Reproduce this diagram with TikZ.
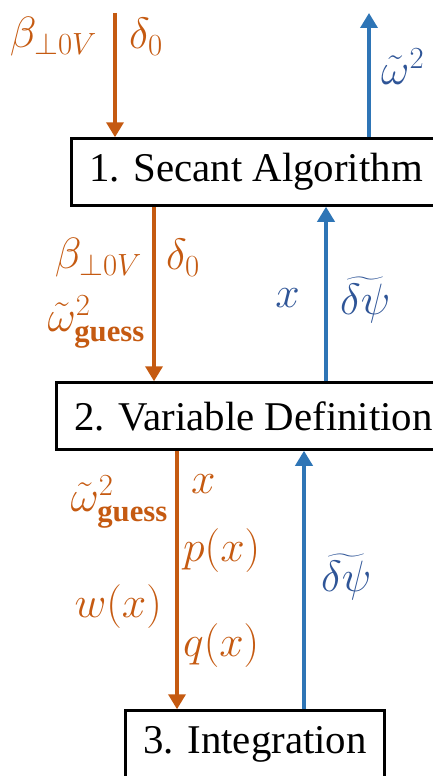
\RequirePackage{fix-cm}
\documentclass[tikz,border=0pt]{standalone}
\usepackage{amsmath}
\usepackage[no-math]{fontspec}
\setmainfont{Liberation Serif}
\usetikzlibrary{arrows.meta}
\definecolor{flowOrange}{HTML}{C55A11}
\definecolor{flowBlue}{HTML}{2E75B6}
\definecolor{labelBlue}{HTML}{2F5597}

\begin{document}
\begin{tikzpicture}[x=1bp,y=-1bp,
  stepbox/.style={draw,line width=2.5bp,minimum height=67bp,inner xsep=18bp,inner ysep=0pt,anchor=west,font=\fontsize{41}{46}\selectfont},
  fwdarrow/.style={flowOrange,line width=3.5bp,-{Triangle[length=15bp,width=17bp]}},
  backarrow/.style={flowBlue,line width=3.5bp,-{Triangle[length=15bp,width=17bp]}},
  olabel/.style={text=flowOrange,inner sep=0pt,font=\fontsize{44}{50}\selectfont},
  blabel/.style={text=labelBlue,inner sep=0pt,font=\fontsize{44}{50}\selectfont}]

\clip (0,0) rectangle (433,776);

% the three steps
\node[stepbox] (secant) at (70,172) {1. Secant Algorithm};
\node[stepbox] (vardef) at (55,416) {2. Variable Definition};
\node[stepbox] (integ) at (124,744) {3. Integration};

% inputs and output of step 1
\coordinate (inA) at (115,13);
\coordinate (outB) at (369,13);
\draw[fwdarrow] (inA) -- (inA |- secant.north);
\draw[backarrow] (outB |- secant.north) -- (outB);
\node[olabel,anchor=east] (betaA) at (97,37) {$\beta_{\perp 0V}$};
\node[olabel,anchor=west] (deltaA) at (129,37) {$\delta_0$};
\node[blabel,anchor=west] (omegaB) at (381,67) {$\tilde{\omega}^2$};

% step 1 <-> step 2
\draw[fwdarrow] ([xshift=84bp]secant.south west) -- ([xshift=84bp]secant.south west |- vardef.north);
\draw[backarrow] ([xshift=271bp]vardef.north west) -- ([xshift=271bp]vardef.north west |- secant.south);
\node[olabel,anchor=east] (betaC) at (142,258) {$\beta_{\perp 0V}$};
\node[olabel,anchor=west] (deltaC) at (166,258) {$\delta_0$};
\node[olabel,anchor=east] (guessC) at (145,322) {$\tilde{\omega}^2_{\textbf{guess}}$};
\node[blabel,anchor=east] (xD) at (300,298) {$x$};
\node[blabel,anchor=west] (psiD) at (340,300) {$\widetilde{\delta\psi}$};

% step 2 <-> step 3
\draw[fwdarrow] ([xshift=122bp]vardef.south west) -- ([xshift=122bp]vardef.south west |- integ.north);
\draw[backarrow] ([xshift=180bp]integ.north west) -- ([xshift=180bp]integ.north west |- vardef.south);
\node[olabel,anchor=east] (guessE) at (168,502) {$\tilde{\omega}^2_{\textbf{guess}}$};
\node[olabel,anchor=west] (xE) at (191,484) {$x$};
\node[olabel,anchor=west] (pE) at (183,551) {$p(x)$};
\node[olabel,anchor=east] (wE) at (162,607) {$w(x)$};
\node[olabel,anchor=west] (qE) at (183,646) {$q(x)$};
\node[blabel,anchor=west] (psiF) at (321,577) {$\widetilde{\delta\psi}$};

\end{tikzpicture}
\end{document}
